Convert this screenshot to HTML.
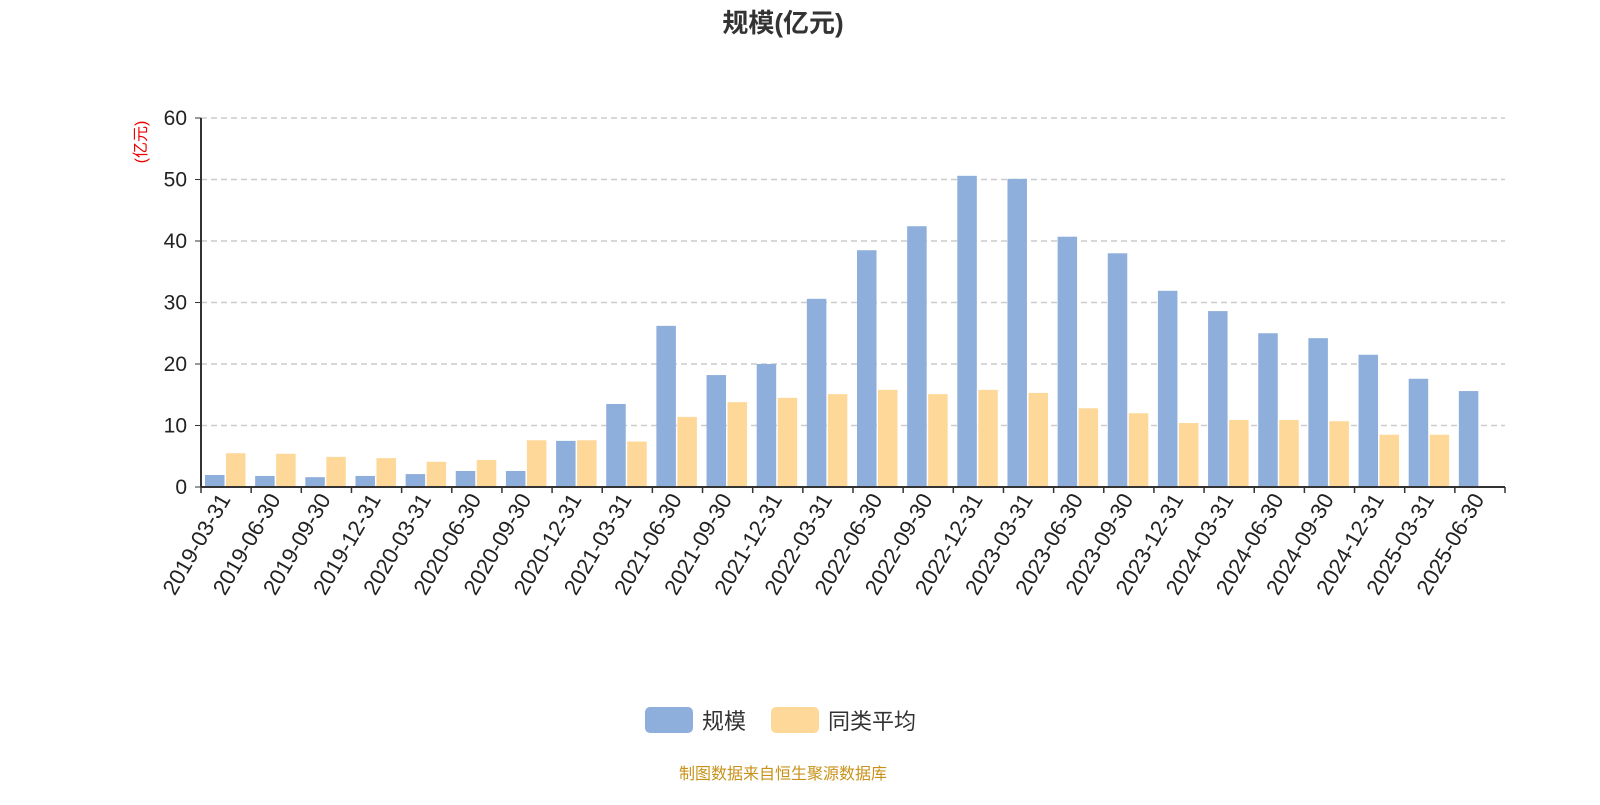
<!DOCTYPE html>
<html><head><meta charset="utf-8"><style>
body{margin:0;background:#fff;}
svg text{font-family:"Liberation Sans","Noto Sans CJK SC",sans-serif;}
</style></head><body>
<svg id="c" width="1600" height="800">
<text x="783" y="32" text-anchor="middle" font-size="26" font-weight="bold" fill="#333">规模(亿元)</text>
<text transform="translate(146,142) rotate(-90)" text-anchor="middle" font-size="16" fill="#e00">(亿元)</text>
<g id="grid"></g><g id="bars"></g><g id="axes"></g>
<g>
<rect x="645" y="707" width="48" height="26" rx="5" fill="#8eaedb"/>
<text x="702" y="729" font-size="22" fill="#333">规模</text>
<rect x="771" y="707" width="48" height="26" rx="5" fill="#fed899"/>
<text x="828" y="729" font-size="22" fill="#333">同类平均</text>
</g>
<text x="783" y="779" text-anchor="middle" font-size="16" fill="#c8921a">制图数据来自恒生聚源数据库</text>
</svg>
<script>
const categories=["2019-03-31","2019-06-30","2019-09-30","2019-12-31","2020-03-31","2020-06-30","2020-09-30","2020-12-31","2021-03-31","2021-06-30","2021-09-30","2021-12-31","2022-03-31","2022-06-30","2022-09-30","2022-12-31","2023-03-31","2023-06-30","2023-09-30","2023-12-31","2024-03-31","2024-06-30","2024-09-30","2024-12-31","2025-03-31","2025-06-30"];
const scaleValues=[1.95,1.8,1.6,1.8,2.1,2.6,2.6,7.5,13.5,26.2,18.2,20,30.6,38.5,42.4,50.6,50.1,40.7,38,31.9,28.6,25,24.2,21.5,17.6,15.6];
const avgValues=[5.5,5.4,4.9,4.7,4.1,4.4,7.6,7.6,7.4,11.4,13.8,14.5,15.1,15.8,15.1,15.8,15.3,12.8,12,10.4,10.9,10.9,10.7,8.5,8.5,null];
const yTicks=[0,10,20,30,40,50,60];
const ns="http://www.w3.org/2000/svg";
const X0=201,X1=1505,Y0=487,Y1=118,YMAX=60;
const band=(X1-X0)/categories.length;
const y=v=>Y0-(v/YMAX)*(Y0-Y1);
const xb=i=>X0+i*band;
function mk(t,a,p){const e=document.createElementNS(ns,t);for(const k in a)e.setAttribute(k,a[k]);p.appendChild(e);return e;}
const grid=document.getElementById('grid'),bars=document.getElementById('bars'),axes=document.getElementById('axes');
yTicks.forEach(t=>{
 if(t>0){const l=mk('line',{x1:X0,x2:X1,y1:y(t),y2:y(t),stroke:'#ccc','stroke-dasharray':'6,4','stroke-width':1.5},grid);
 
 }
 const tk=mk('line',{x1:X0-6,x2:X0,y1:y(t),y2:y(t),stroke:'#333'},axes);
 
 
 const tx=mk('text',{x:X0-14,y:y(t)+7,'text-anchor':'end','font-size':21,fill:'#222'},axes);tx.textContent=t;
 
 
});
const bw=19.5;
categories.forEach((c,i)=>{
 const s=scaleValues[i];
 if(s!=null){const r=mk('rect',{x:xb(i)+4,y:y(s),width:bw,height:Y0-y(s),fill:'#8eaedb'},bars);
 
 }
 const a=avgValues[i];
 if(a!=null){const r=mk('rect',{x:xb(i)+4+bw+1.5,y:y(a),width:bw,height:Y0-y(a),fill:'#fed899'},bars);
 
 }
 const cx=xb(i)+band/2;
 const tx=mk('text',{transform:`translate(${cx+5},${Y0+12}) rotate(-60)`,'text-anchor':'end','font-size':22,fill:'#222'},axes);tx.textContent=c;
 
 
});
for(let i=0;i<=categories.length;i++){const t=mk('line',{x1:xb(i),x2:xb(i),y1:Y0,y2:Y0+6,stroke:'#333','stroke-width':1.5},axes);
 
 }
const ya=mk('line',{x1:X0,x2:X0,y1:Y1,y2:Y0,stroke:'#333','stroke-width':2},axes);


const xa=mk('line',{x1:X0,x2:X1,y1:Y0,y2:Y0,stroke:'#333','stroke-width':2},axes);


</script>
</body></html>
